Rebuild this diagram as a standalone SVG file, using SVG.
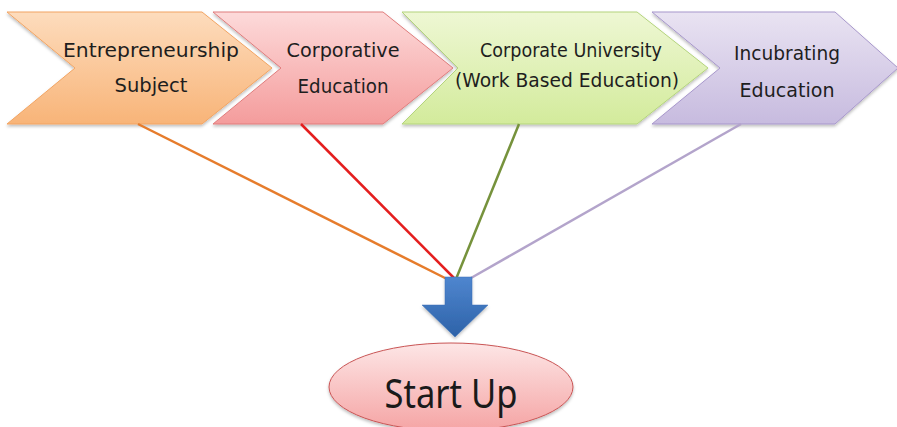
<svg xmlns="http://www.w3.org/2000/svg" width="897" height="427" viewBox="0 0 897 427">
  <defs>
    <linearGradient id="gOrange" x1="0" y1="0" x2="0" y2="1">
      <stop offset="0" stop-color="#fddcbd"/>
      <stop offset="1" stop-color="#f8b478"/>
    </linearGradient>
    <linearGradient id="gRed" x1="0" y1="0" x2="0" y2="1">
      <stop offset="0" stop-color="#fddada"/>
      <stop offset="1" stop-color="#f49c9c"/>
    </linearGradient>
    <linearGradient id="gGreen" x1="0" y1="0" x2="0" y2="1">
      <stop offset="0" stop-color="#eef7d4"/>
      <stop offset="1" stop-color="#d3eb9c"/>
    </linearGradient>
    <linearGradient id="gPurple" x1="0" y1="0" x2="0" y2="1">
      <stop offset="0" stop-color="#e9e3f2"/>
      <stop offset="1" stop-color="#c7bbdf"/>
    </linearGradient>
    <linearGradient id="gBlue" x1="0" y1="0" x2="0" y2="1">
      <stop offset="0" stop-color="#4f86cf"/>
      <stop offset="1" stop-color="#2d62a8"/>
    </linearGradient>
    <linearGradient id="gPink" x1="0" y1="0" x2="0" y2="1">
      <stop offset="0" stop-color="#fde6e6"/>
      <stop offset="1" stop-color="#f5a4a4"/>
    </linearGradient>
    <filter id="shadow" x="-10%" y="-10%" width="120%" height="130%">
      <feDropShadow dx="0" dy="2" stdDeviation="1.5" flood-color="#000" flood-opacity="0.25"/>
    </filter>
  </defs>
  <style>
    .lbl { font-family: "DejaVu Sans", "Noto Sans", sans-serif; font-size: 20px; fill: #1e1e1e; text-anchor: middle; }
    .big { font-family: "Noto Sans", "DejaVu Sans", sans-serif; font-size: 40px; fill: #1a1a1a; text-anchor: middle; }
    .conn { fill: none; stroke-width: 2.5; }
  </style>
  <rect width="897" height="427" fill="#ffffff"/>

  <g id="node-entrepreneurship">
    <polygon points="7,12 202,12 272,68 202,124 7,124 75,68" fill="url(#gOrange)" stroke="#f2a462" stroke-width="1" filter="url(#shadow)"/>
    <text class="lbl" x="151" y="57" textLength="176" lengthAdjust="spacingAndGlyphs">Entrepreneurship</text>
    <text class="lbl" x="151" y="92" textLength="73" lengthAdjust="spacingAndGlyphs">Subject</text>
  </g>

  <g id="node-corporative">
    <polygon points="213,12 383,12 453,68 383,124 213,124 281,68" fill="url(#gRed)" stroke="#e07c7c" stroke-width="1" filter="url(#shadow)"/>
    <text class="lbl" x="343" y="57" textLength="113" lengthAdjust="spacingAndGlyphs">Corporative</text>
    <text class="lbl" x="343" y="93" textLength="91" lengthAdjust="spacingAndGlyphs">Education</text>
  </g>

  <g id="node-corporate-university">
    <polygon points="402,12 637,12 708,68 637,124 402,124 458,68" fill="url(#gGreen)" stroke="#b4d47c" stroke-width="1" filter="url(#shadow)"/>
    <text class="lbl" x="571" y="57" font-size="18.5" textLength="182" lengthAdjust="spacingAndGlyphs">Corporate University</text>
    <text class="lbl" x="567" y="87" font-size="18.5" textLength="224" lengthAdjust="spacingAndGlyphs">(Work Based Education)</text>
  </g>

  <g id="node-incubrating">
    <polygon points="652,12 835,12 898,68 835,124 652,124 720,68" fill="url(#gPurple)" stroke="#a797cb" stroke-width="1" filter="url(#shadow)"/>
    <text class="lbl" x="787" y="60" textLength="106" lengthAdjust="spacingAndGlyphs">Incubrating</text>
    <text class="lbl" x="787" y="97" textLength="95" lengthAdjust="spacingAndGlyphs">Education</text>
  </g>

  <g id="connectors">
    <line class="conn" x1="138" y1="124" x2="447" y2="279" stroke="#e67c2c"/>
    <line class="conn" x1="301" y1="124" x2="455" y2="279" stroke="#e41e1e"/>
    <line class="conn" x1="519" y1="124" x2="456" y2="279" stroke="#76923c"/>
    <line class="conn" x1="741" y1="124" x2="471" y2="278" stroke="#b3a4cb"/>
  </g>

  <g id="node-arrow">
    <polygon points="445,277 472,277 472,305 488,305 455,337 422,305 445,305" fill="url(#gBlue)" stroke="#3a6fb5" stroke-width="0.5" filter="url(#shadow)"/>
  </g>

  <g id="node-startup">
    <ellipse cx="451" cy="387" rx="122" ry="44" fill="url(#gPink)" stroke="#c95555" stroke-width="1" filter="url(#shadow)"/>
    <text class="big" x="451" y="408" textLength="133" lengthAdjust="spacingAndGlyphs">Start Up</text>
  </g>
</svg>
